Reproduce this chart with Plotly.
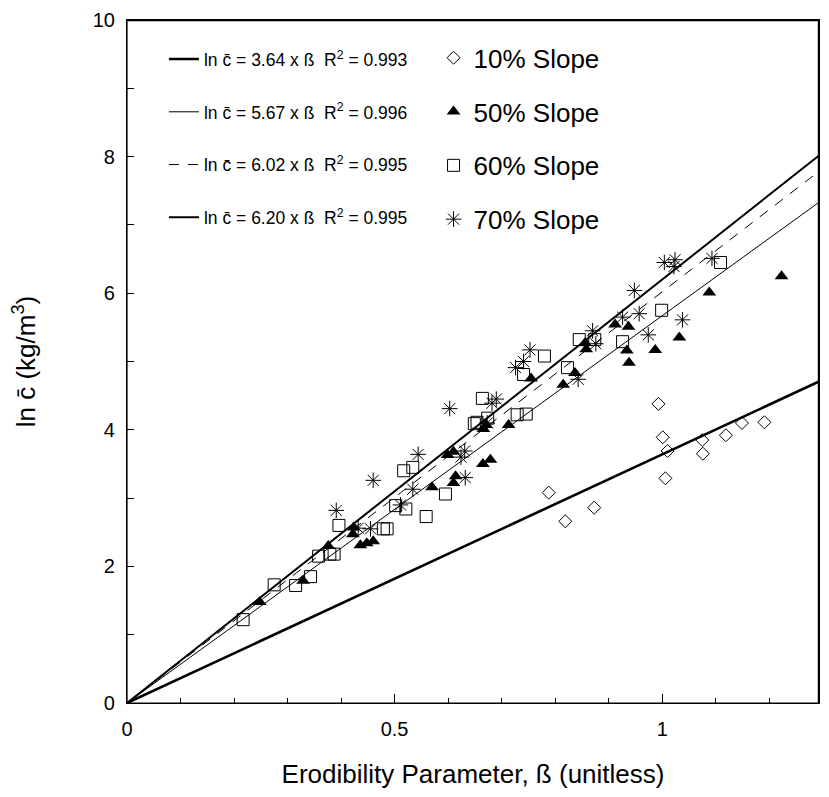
import plotly.graph_objects as go

# Axis ranges
x_range = [0.0, 1.293]
y_range = [0.0, 10.0]

# Regression lines: ln c = slope * beta
slopes = [3.64, 5.67, 6.02, 6.20]
r_squared = [0.993, 0.996, 0.995, 0.995]
line_beta = [0.0, 1.3]

# 10% slope (open diamonds)
beta_10 = [0.788, 0.819, 0.873, 0.993, 1.001, 1.006, 1.010, 1.075, 1.076, 1.119, 1.149, 1.191]
lnc_10 = [3.08, 2.66, 2.86, 4.38, 3.89, 3.29, 3.69, 3.85, 3.65, 3.92, 4.10, 4.11]

# 50% slope (filled triangles)
beta_50 = [0.248, 0.329, 0.376, 0.424, 0.422, 0.436, 0.448, 0.460, 0.570, 0.599,
           0.610, 0.610, 0.614, 0.665, 0.679, 0.666, 0.671, 0.713, 0.755, 0.815,
           0.837, 0.856, 0.858, 0.912, 0.937, 0.934, 0.938, 0.987, 1.032, 1.088, 1.223]
lnc_50 = [1.48, 1.79, 2.30, 2.57, 2.47, 2.31, 2.34, 2.37, 3.16, 3.63,
          3.68, 3.22, 3.32, 3.50, 3.56, 4.01, 4.07, 4.07, 4.75, 4.66,
          4.83, 5.27, 5.18, 5.54, 5.51, 5.16, 4.98, 5.17, 5.35, 6.01, 6.25]

# 60% slope (open squares)
beta_60 = [0.217, 0.275, 0.315, 0.343, 0.358, 0.379, 0.387, 0.396, 0.479, 0.486,
           0.502, 0.521, 0.517, 0.534, 0.559, 0.595, 0.649, 0.654, 0.674, 0.664,
           0.729, 0.746, 0.741, 0.780, 0.823, 0.845, 0.874, 0.926, 0.999, 1.109]
lnc_60 = [1.22, 1.73, 1.72, 1.85, 2.15, 2.18, 2.18, 2.60, 2.55, 2.55,
          2.89, 2.84, 3.40, 3.45, 2.73, 3.06, 4.09, 4.11, 4.17, 4.46,
          4.22, 4.23, 4.81, 5.08, 4.91, 5.32, 5.32, 5.29, 5.75, 6.45]

# 70% slope (asterisks)
beta_70 = [0.391, 0.432, 0.455, 0.460, 0.511, 0.534, 0.544, 0.603, 0.624, 0.631,
           0.632, 0.673, 0.682, 0.690, 0.726, 0.741, 0.753, 0.843, 0.870, 0.876,
           0.926, 0.957, 0.948, 0.974, 1.004, 1.024, 1.022, 1.038, 1.093]
lnc_70 = [2.82, 2.56, 2.55, 3.26, 2.90, 3.13, 3.64, 4.31, 3.60, 3.69,
          3.30, 4.10, 4.39, 4.45, 4.91, 5.00, 5.17, 4.74, 5.45, 5.26,
          5.65, 5.70, 6.04, 5.39, 6.45, 6.49, 6.39, 5.61, 6.51]

series_names = ["10% Slope", "50% Slope", "60% Slope", "70% Slope"]

FONT = "Liberation Sans, Arial, sans-serif"
fig = go.Figure()

# Top and right frame of the plotting box, following the axis ranges
fig.add_trace(go.Scatter(
    x=[x_range[0], x_range[1], x_range[1]], y=[y_range[1], y_range[1], y_range[0]],
    mode="lines", line=dict(color="black", width=2.4),
    showlegend=False, hoverinfo="skip"))

line_styles = [
    dict(width=2.6, dash="solid"),
    dict(width=1.0, dash="solid"),
    dict(width=1.0, dash="10px,9px"),
    dict(width=2.0, dash="solid"),
]
for i, (s, r, st) in enumerate(zip(slopes, r_squared, line_styles)):
    fig.add_trace(go.Scatter(
        x=line_beta, y=[s * b for b in line_beta], mode="lines",
        line=dict(color="black", **st),
        name=f"ln c\u0304 = {s:.2f} x \u00df  R<sup>2</sup> = {r:.3f}",
        legend="legend", legendgroup=f"l{i}", hoverinfo="skip"))

marker_specs = [
    dict(symbol="diamond-open", size=10, color="black", line=dict(width=1, color="black")),
    dict(symbol="triangle-up", size=12, color="black", line=dict(width=0)),
    dict(symbol="square-open", size=12, color="black", line=dict(width=1, color="black")),
    dict(symbol="asterisk-open", size=13, color="black", line=dict(width=1, color="black")),
]
data = [(beta_10, lnc_10), (beta_50, lnc_50), (beta_60, lnc_60), (beta_70, lnc_70)]
for i, ((bx, by), m, nm) in enumerate(zip(data, marker_specs, series_names)):
    fig.add_trace(go.Scatter(
        x=bx, y=by, mode="markers", marker=m, name=nm,
        legend="legend2", legendgroup=f"m{i}"))

# Frame around the plotting area
fig.add_shape(type="rect", xref="paper", yref="paper", x0=0, y0=0, x1=1, y1=1,
              line=dict(color="black", width=1.2), layer="above")

# Page body has an 8px default margin; keep the page from overflowing.
fig.update_layout(
    width=813, height=781,
    margin=dict(l=119, r=1, t=10, b=86),
    paper_bgcolor="white", plot_bgcolor="white",
    font=dict(family=FONT, color="black"),
    showlegend=True,
    legend=dict(x=0.0534, y=0.969, xanchor="left", yanchor="top",
                font=dict(size=17.5, family=FONT), bgcolor="rgba(0,0,0,0)",
                traceorder="grouped", tracegroupgap=27, itemclick=False),
    legend2=dict(x=0.443, y=0.979, xanchor="left", yanchor="top",
                 font=dict(size=26, family=FONT), bgcolor="rgba(0,0,0,0)",
                 traceorder="grouped", tracegroupgap=17, itemclick=False),
    xaxis=dict(range=x_range, tickmode="linear", tick0=0, dtick=0.5,
               ticks="inside", ticklen=9,
               tickcolor="black", showline=True, linecolor="black", linewidth=1.2,
               mirror=True, showgrid=False, zeroline=False,
               tickfont=dict(size=20), ticklabelstandoff=8, ticklabeloverflow="allow",
               minor=dict(tick0=0, dtick=0.1, ticks="inside", ticklen=5,
                          tickcolor="black", showgrid=False),
               title=dict(text="Erodibility Parameter, \u00df (unitless)", font=dict(size=26), standoff=25)),
    yaxis=dict(range=y_range, tickmode="linear", tick0=0, dtick=2,
               ticks="inside", ticklen=7, tickcolor="black",
               showline=True, linecolor="black", linewidth=1.2, mirror=True,
               showgrid=False, zeroline=False, tickfont=dict(size=20),
               ticklabelstandoff=7, ticklabeloverflow="allow",
               minor=dict(tick0=0, dtick=1, ticks="inside", ticklen=7,
                          tickcolor="black", showgrid=False),
               title=dict(text="ln c\u0304 (kg/m<sup>3</sup>)", font=dict(size=26), standoff=54)),
)

fig.write_html("out.html")
